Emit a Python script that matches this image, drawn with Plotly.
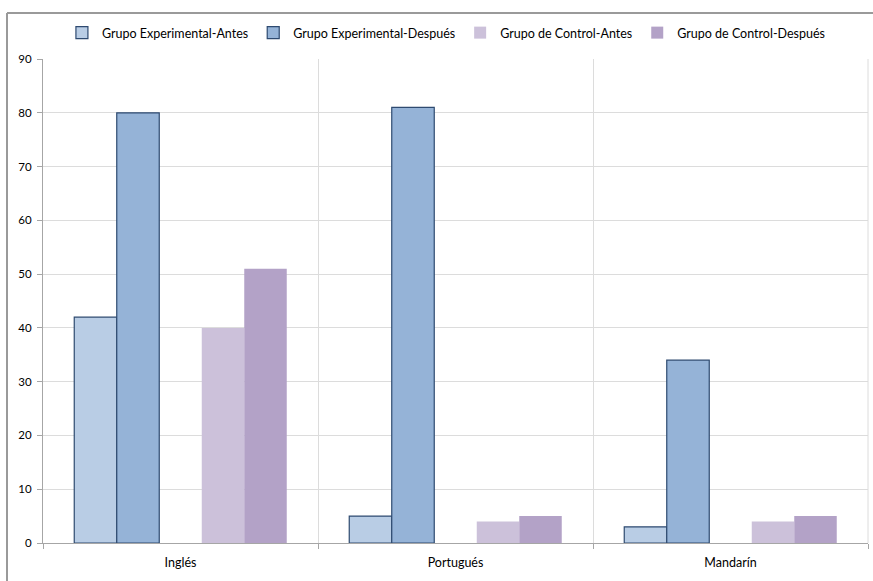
import plotly.graph_objects as go

categories = ["Inglés", "Portugués", "Mandarín"]
series_names = ["Grupo Experimental-Antes", "Grupo Experimental-Después",
                "Grupo de Control-Antes", "Grupo de Control-Después"]
exp_antes = [42, 5, 3]
exp_despues = [80, 81, 34]
ctl_antes = [40, 4, 4]
ctl_despues = [51, 5, 5]
y_ticks = [0, 10, 20, 30, 40, 50, 60, 70, 80, 90]

W, H = 873, 581
L, R, T, B = 43, 5, 59, 38
pw, ph = W - L - R, H - T - B

fills = ["#b9cde5", "#95b3d7", "#ccc1da", "#b3a2c7"]
lines = ["#2e4a70", "#2e4a70", None, None]

bw = 42.5 / 275.0  # bar width in category units
start = -2.5 * bw
slots = [0, 1, 3, 4]  # slot 2 left empty (gap between groups)
values = [exp_antes, exp_despues, ctl_antes, ctl_despues]

fig = go.Figure()
for i, (name, vals) in enumerate(zip(series_names, values)):
    fig.add_trace(go.Bar(
        x=categories, y=vals, name=name,
        width=bw, offset=start + slots[i] * bw,
        marker=dict(color=fills[i],
                    line=dict(color=lines[i] if lines[i] else fills[i],
                              width=1.2 if lines[i] else 0)),
    ))

font = "Lato, 'Liberation Sans', sans-serif"
fig.update_layout(
    width=W, height=H,
    margin=dict(l=L, r=R, t=T, b=B),
    paper_bgcolor="white", plot_bgcolor="white",
    barmode="overlay",
    font=dict(family=font, size=12, color="#000000"),
    showlegend=True,
    legend=dict(orientation="h", x=0.489, xanchor="center", y=(543 - 33) / ph,
                yanchor="middle", font=dict(size=12.5), itemwidth=30,
                bgcolor="rgba(0,0,0,0)", traceorder="normal"),
    xaxis=dict(type="category", range=[-0.5, 2.5], tickson="boundaries",
               showgrid=True, gridcolor="#dcdcdc", gridwidth=1,
               showline=True, linecolor="#a6a6a6", linewidth=1,
               ticks="outside", ticklen=5, tickcolor="#a6a6a6",
               ticklabelstandoff=8,
               tickfont=dict(size=12.5), fixedrange=True),
    yaxis=dict(range=[0, 90], tickvals=y_ticks, showgrid=True,
               gridcolor="#dcdcdc", gridwidth=1,
               showline=True, linecolor="#a6a6a6", linewidth=1,
               ticks="outside", ticklen=5, tickcolor="#a6a6a6",
               ticklabelstandoff=3,
               tickfont=dict(size=11.5), zeroline=False, fixedrange=True),
    shapes=[
        dict(type="line", xref="paper", yref="paper",
             x0=(7 - L) / pw, x1=(880 - L) / pw,
             y0=(H - B - 13) / ph, y1=(H - B - 13) / ph,
             line=dict(color="#9a9a9a", width=2)),
        dict(type="line", xref="paper", yref="paper",
             x0=(7 - L) / pw, x1=(7 - L) / pw,
             y0=(H - B - 13) / ph, y1=(H - B - 600) / ph,
             line=dict(color="#9a9a9a", width=2)),
        dict(type="line", xref="paper", yref="paper",
             x0=1, x1=1, y0=0, y1=1,
             line=dict(color="#dcdcdc", width=1)),
    ],
)

fig.write_html("out.html", config={"displayModeBar": False},
               post_script="document.body.style.margin='0';")
